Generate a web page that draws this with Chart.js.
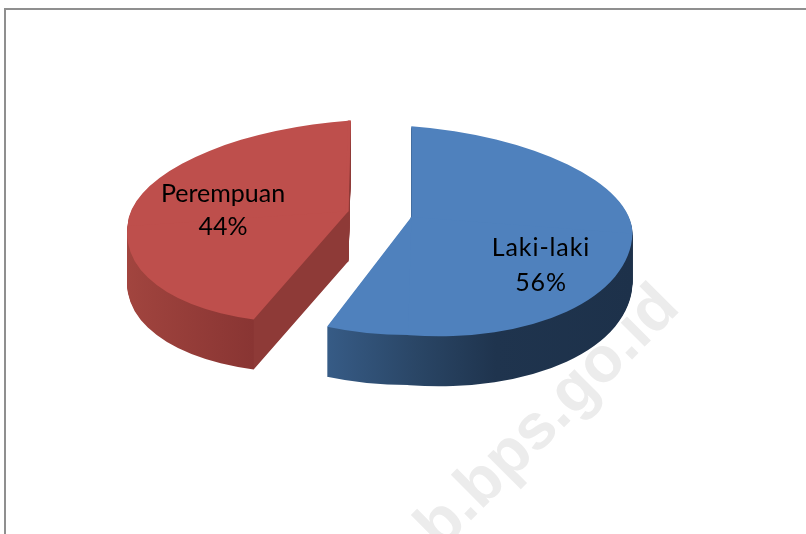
<!DOCTYPE html>
<html>
<head>
<meta charset="utf-8">
<style>
  html, body { margin: 0; padding: 0; background: #fff; overflow: hidden; }
  canvas { display: block; }
</style>
<script src="https://cdn.jsdelivr.net/npm/chart.js@4"></script>
</head>
<body>
<canvas id="pie" width="806" height="534"></canvas>
<script>
const categories = ['Laki-laki', 'Perempuan'];
const values = [56, 44];
const percentLabels = ['56%', '44%'];
const topColors = ['#4F81BD', '#BE4F4C'];

// fake 3D look: every slice is squashed and skewed on its own
const EXPLODE = 32;
const DEPTH = 50;
const SCALE_UP = 0.41;
const SCALE_DOWN = [0.535, 0.5];
const SKEW_LEFT = [0, -0.068];
const SKEW_RIGHT = [0.075, 0];
const SHEAR_UP = [0, -0.01];
const SHEAR_DOWN = [-0.015, -0.066];
const labelPos = [[541, 248, 283], [223, 194, 227]];
const labelSpacing = ['0.9px', '0px'];

function sideFill(ctx, i, arc) {
    // stops are in slice space, before the explode shift
    if (i === 0) {
        const g = ctx.createLinearGradient(296, 0, 602, 0);
        g.addColorStop(0, '#375C87');
        g.addColorStop(0.3, '#2A4666');
        g.addColorStop(0.56, '#1F344E');
        g.addColorStop(1, '#1D314A');
        return g;
    }
    const g = ctx.createLinearGradient(arc.x - 221, 0, arc.x, 0);
    g.addColorStop(0, '#A2453F');
    g.addColorStop(0.63, '#893533');
    g.addColorStop(0.634, '#8E3A37');
    g.addColorStop(1, '#8E3A37');
    return g;
}

function drawSlice(ctx, arc, i, fill, drop) {
    const mid = (arc.startAngle + arc.endAngle) / 2;
    const dx = Math.cos(mid) * EXPLODE;
    const ay = arc.y + Math.sin(mid) * EXPLODE * 0.48 + drop;
    const ghost = Object.create(arc);
    ghost.options = Object.assign({}, arc.options, { backgroundColor: fill, borderWidth: 0 });
    const parts = [
        [SCALE_UP, SHEAR_UP[i], SKEW_LEFT[i], -500, -500, 500, 503],
        [SCALE_UP, SHEAR_UP[i], SKEW_RIGHT[i], -3, -500, 503, 503],
        [SCALE_DOWN[i], SHEAR_DOWN[i], SKEW_LEFT[i], -500, 0, 503, 500],
        [SCALE_DOWN[i], SHEAR_DOWN[i], SKEW_RIGHT[i], 0, 0, 500, 500]
    ];
    parts.forEach(([s, c, k, rx, ry, rw, rh]) => {
        ctx.save();
        ctx.transform(1, k, c, s, dx - c * arc.y, ay - k * arc.x - s * arc.y);
        ctx.beginPath();
        ctx.rect(arc.x + rx, arc.y + ry, rw, rh);
        ctx.clip();
        ghost.draw(ctx);
        ctx.restore();
    });
}

const pie3d = {
    id: 'pie3d',
    beforeDraw(chart) {
        const ctx = chart.ctx;
        ctx.save();
        ctx.fillStyle = '#fff';
        ctx.fillRect(0, 0, 806, 534);
        // page frame
        ctx.fillStyle = '#8F8F8F';
        ctx.fillRect(4, 8, 802, 2);
        ctx.fillRect(4, 8, 2, 526);
        // watermark
        ctx.translate(640, 316);
        ctx.rotate(-Math.PI / 4);
        ctx.font = 'bold 64px "Liberation Sans"';
        ctx.textAlign = 'right';
        ctx.textBaseline = 'alphabetic';
        ctx.fillStyle = '#ECECEC';
        ctx.fillText('lab.bps.go.id', 34, 25);
        ctx.restore();
    },
    beforeDatasetsDraw(chart) {
        const ctx = chart.ctx;
        const arcs = chart.getDatasetMeta(0).data;
        arcs.forEach((arc, i) => {
            const fill = sideFill(ctx, i, arc);
            for (let d = DEPTH; d >= 1; d--) drawSlice(ctx, arc, i, fill, d);
        });
        arcs.forEach((arc, i) => drawSlice(ctx, arc, i, arc.options.backgroundColor, 0));
        return false;
    },
    afterDraw(chart) {
        const ctx = chart.ctx;
        ctx.save();
        ctx.font = '25px Lato';
        ctx.fillStyle = '#000';
        ctx.textAlign = 'center';
        ctx.textBaseline = 'middle';
        categories.forEach((name, i) => {
            ctx.letterSpacing = labelSpacing[i];
            ctx.fillText(name, labelPos[i][0], labelPos[i][1]);
            ctx.fillText(percentLabels[i], labelPos[i][0], labelPos[i][2]);
        });
        ctx.restore();
    }
};

new Chart(document.getElementById('pie'), {
    type: 'pie',
    data: {
        labels: categories,
        datasets: [{ data: values, backgroundColor: topColors, borderWidth: 0 }]
    },
    options: {
        responsive: false,
        animation: false,
        events: [],
        radius: 221,
        layout: { padding: { left: 0, right: 46, top: 0, bottom: 106 } },
        plugins: { legend: { display: false }, tooltip: { enabled: false } }
    },
    plugins: [pie3d]
});
</script>
</body>
</html>
